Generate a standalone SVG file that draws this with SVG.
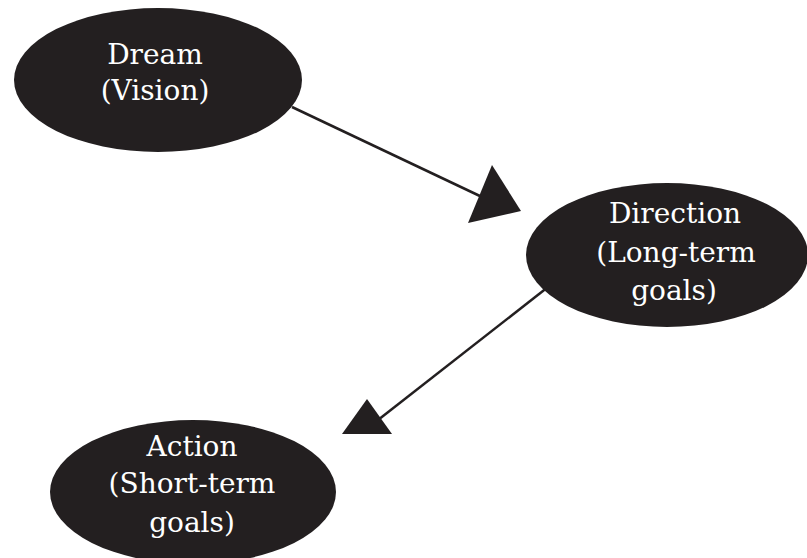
<svg xmlns="http://www.w3.org/2000/svg" width="807" height="558" viewBox="0 0 807 558">
<style>
.node ellipse{fill:#231f20}
.node text{fill:#ffffff;font-family:"DejaVu Serif","Liberation Serif",serif;font-size:28px;text-anchor:middle}
.conn line{stroke:#231f20;stroke-width:2.5}
.conn polygon{fill:#231f20}
</style>
<rect width="807" height="558" fill="#ffffff"/>
<g id="connectors" class="conn">
<line x1="292" y1="107" x2="482" y2="197"/>
<polygon points="492,165 521,211 468,223"/>
<line x1="548" y1="287" x2="378" y2="420"/>
<polygon points="367,399 392,434 342,434"/>
</g>
<g id="dream" class="node">
<ellipse cx="158" cy="80" rx="144" ry="72"/>
<text x="155" y="64">Dream</text>
<text x="155" y="100">(Vision)</text>
</g>
<g id="direction" class="node">
<ellipse cx="667" cy="255" rx="141" ry="72"/>
<text x="675" y="223">Direction</text>
<text x="676" y="262">(Long-term</text>
<text x="674" y="300">goals)</text>
</g>
<g id="action" class="node">
<ellipse cx="193" cy="492" rx="143" ry="72"/>
<text x="192" y="456">Action</text>
<text x="192" y="493">(Short-term</text>
<text x="192" y="532">goals)</text>
</g>
</svg>
